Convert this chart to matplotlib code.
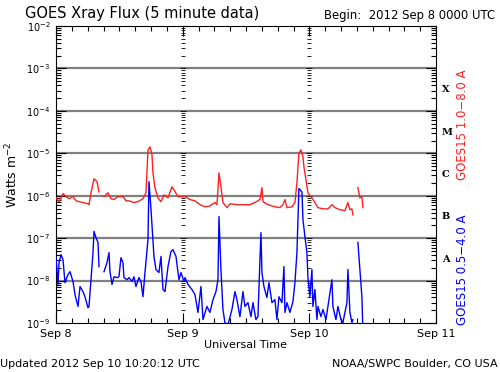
import numpy as np
import matplotlib
matplotlib.use("Agg")
import matplotlib.pyplot as plt
from matplotlib.ticker import FixedLocator, NullFormatter

# hours since 2012 Sep 8 00:00 UTC, log10 flux (W m^-2); nan = data gap
long_hours = [0.0, 0.57, 1.33, 1.89, 2.46, 3.22, 3.79, 4.36, 5.11, 6.06, 6.25, 6.63, 7.20, 7.77, 8.15, 8.6,
              9.09, 9.85, 10.42, 10.99, 11.74, 12.69, 13.26, 13.83, 14.77, 15.53, 16.48, 17.05, 17.43, 17.81,
              18.18, 18.37, 18.75, 19.32, 19.89, 20.46, 21.22, 21.97, 22.35, 23.11, 24.06, 24.44, 25.38, 26.33,
              27.28, 28.22, 29.17, 30.12, 30.50, 30.88, 31.25, 31.63, 32.39, 32.96, 34.28, 35.42, 36.75, 37.69,
              38.64, 39.02, 39.21, 40.16, 41.48, 42.43, 43.00, 43.38, 43.76, 44.70, 45.27, 45.65, 46.03, 46.41,
              46.79, 46.98, 47.36, 47.73, 48.49, 49.06, 49.63, 50.58, 51.52, 52.28, 52.85, 53.80, 54.74, 55.31,
              55.69, 56.07, 56.26, 56.8, 57.20, 57.58, 57.96, 58.15]
long_flux = [-6.05, -6.14, -5.95, -6.02, -6.07, -6.02, -6.12, -6.14, -6.16, -6.19, -6.21, -5.93, -5.60, -5.67, -5.91, np.nan,
             -6.02, -5.93, -6.07, -6.09, -6.02, -6.02, -6.12, -6.12, -6.16, -6.14, -6.07, -5.93, -4.92, -4.85,
             -5.03, -5.46, -5.81, -6.05, -6.14, -5.98, -6.05, -5.79, -5.86, -6.02, -6.02, -6.02, -6.09, -6.12,
             -6.21, -6.26, -6.24, -6.16, -6.21, -5.46, -5.79, -6.16, -6.28, -6.19, -6.21, -6.21, -6.21, -6.16,
             -6.09, -5.81, -6.14, -6.21, -6.26, -6.28, -6.21, -6.09, -6.28, -6.26, -6.16, -5.69, -4.99, -4.92,
             -5.08, -5.32, -5.62, -5.93, -6.05, -6.16, -6.28, -6.31, -6.31, -6.21, -6.28, -6.33, -6.35, -6.16,
             -6.33, -6.31, -6.45, np.nan, -5.81, -6.05, -6.02, -6.28]

short_hours = [0.0, 0.38, 0.57, 0.95, 1.33, 1.70, 2.27, 2.65, 3.22, 3.60, 4.17, 4.55, 5.11, 5.49, 6.06, 6.25,
               6.63, 7.01, 7.20, 7.58, 7.96, 8.15, 8.6, 9.09, 9.66, 10.04, 10.23, 10.61, 10.99, 11.55, 11.93,
               12.31, 12.69, 12.88, 13.45, 13.83, 14.40, 14.77, 15.15, 15.72, 16.10, 16.48, 16.86, 17.43, 17.62,
               17.99, 18.37, 18.56, 18.94, 19.51, 19.89, 20.27, 20.65, 21.22, 21.78, 22.16, 22.73, 23.30, 23.68,
               24.25, 24.44, 25.00, 25.76, 26.33, 26.90, 27.47, 27.85, 28.60, 29.17, 29.74, 30.31, 30.69, 30.88,
               31.25, 31.63, 32.01, 32.58, 33.34, 33.91, 34.28, 34.85, 35.42, 35.80, 36.37, 36.94, 37.32, 37.88,
               38.26, 38.83, 39.02, 39.40, 39.97, 40.35, 40.92, 41.48, 41.86, 42.24, 42.81, 43.19, 43.38, 43.76,
               44.32, 44.89, 45.27, 45.65, 45.84, 46.03, 46.60, 46.79, 47.16, 47.54, 47.73, 48.11, 48.49, 48.68,
               49.06, 49.44, 49.63, 50.20, 50.58, 51.15, 51.52, 52.09, 52.28, 52.47, 53.04, 53.42, 53.99, 54.36,
               55.12, 55.31, 55.69, 56.07, 56.26, 56.8, 57.20, 57.58, 57.96, 58.15]
short_flux = [-7.46, -8.09, -7.58, -7.39, -7.51, -8.05, -7.86, -7.79, -8.02, -8.33, -8.61, -8.14, -8.26, -8.38, -8.64, -8.61,
              -7.98, -7.34, -6.84, -6.99, -7.10, -7.67, np.nan, -7.79, -7.58, -7.34, -7.79, -8.09, -7.91, -7.93, -7.91,
              -7.46, -7.58, -7.93, -7.98, -7.93, -8.02, -7.91, -8.14, -7.93, -8.02, -8.38, -7.81, -7.03, -5.67,
              -6.30, -7.03, -7.43, -7.74, -7.81, -7.43, -8.21, -8.26, -7.67, -7.32, -7.27, -7.43, -7.98, -7.81,
              -8.02, -7.93, -8.09, -8.21, -8.33, -8.75, -8.14, -8.92, -8.61, -8.75, -8.45, -8.26, -7.98, -6.49,
              -7.74, -8.68, -8.99, -9.04, -8.68, -8.26, -8.45, -8.85, -8.26, -8.61, -8.52, -8.85, -8.52, -8.92,
              -8.85, -6.87, -7.81, -8.14, -8.40, -8.05, -8.52, -8.45, -8.92, -8.38, -8.52, -7.67, -8.75, -8.52,
              -8.75, -8.50, -8.05, -7.34, -6.56, -5.83, -5.91, -6.56, -6.96, -7.34, -7.91, -8.38, -7.74, -8.61,
              -8.21, -8.92, -8.61, -8.85, -8.68, -8.92, -8.61, -8.14, -7.98, -8.61, -8.92, -8.61, -8.92, -8.99,
              -8.52, -7.74, -8.75, -8.99, -8.92, np.nan, -7.10, -7.74, -8.38, -9.2]

day_ticks = [0, 24, 48, 72]
day_labels = ['Sep 8', 'Sep 9', 'Sep 10', 'Sep 11']
decades = [-9, -8, -7, -6, -5, -4, -3, -2]
classes = ['A', 'B', 'C', 'M', 'X']

fig = plt.figure(figsize=(5.0, 3.72), dpi=100)
ax = fig.add_axes([0.112, 0.1317, 0.76, 0.7983])

for d in decades[1:-1]:
    ax.axhline(10.0**d, color='#808080', lw=1.6, zorder=1)

ax.plot(long_hours, 10.0**np.array(long_flux), color='#ff2020', lw=1.0, zorder=3)
ax.plot(short_hours, 10.0**np.array(short_flux), color='#0000ff', lw=1.0, zorder=3)

ax.set_yscale('log')
ax.set_ylim(1e-9, 1e-2)
ax.set_xlim(0, 72)

ax.yaxis.set_major_locator(FixedLocator([10.0**d for d in decades]))
minor_y = [k * 10.0**d for d in decades[:-1] for k in range(2, 10)]
ax.yaxis.set_minor_locator(FixedLocator(minor_y))
ax.yaxis.set_minor_formatter(NullFormatter())
ax.set_yticklabels(['10$^{%d}$' % d for d in decades], fontsize=7)

ax.set_xticks(day_ticks)
ax.set_xticklabels(day_labels, fontsize=8)
ax.xaxis.set_minor_locator(FixedLocator(np.arange(0, 73, 3)))

ax.tick_params(which='both', direction='in', top=True, right=True, width=0.8)
ax.tick_params(which='major', length=7, pad=4)
ax.tick_params(which='minor', length=3.5)

# y tick marks along the day boundaries
for day in day_ticks[1:-1]:
    ax.plot([day] * len(minor_y), minor_y, ls='none', marker='_', ms=3, mew=0.6, color='black', zorder=2)
    ax.plot([day] * len(decades), [10.0**d for d in decades], ls='none', marker='_', ms=5, mew=0.6,
            color='black', zorder=2)

for sp in ax.spines.values():
    sp.set_linewidth(0.8)

ax.set_ylabel('Watts m$^{-2}$', fontsize=9, labelpad=4)
ax.set_xlabel('Universal Time', fontsize=8, labelpad=1)

for i, c in enumerate(classes):
    ax.text(1.015, 10.0**(-7.5 + i), c, transform=ax.get_yaxis_transform(), fontsize=7,
            family='DejaVu Serif', fontweight='bold', va='center', ha='left')

fig.text(0.926, 0.665, 'GOES15 1.0\u22128.0 A', color='#ff2020', rotation=90, fontsize=8.5,
         ha='center', va='center')
fig.text(0.926, 0.275, 'GOES15 0.5\u22124.0 A', color='#0000ff', rotation=90, fontsize=8.5,
         ha='center', va='center')

fig.text(0.05, 0.965, 'GOES Xray Flux (5 minute data)', fontsize=10.5, ha='left', va='center')
fig.text(0.99, 0.957, 'Begin:  2012 Sep 8 0000 UTC', fontsize=8.4, ha='right', va='center')
fig.text(0.0, 0.022, 'Updated 2012 Sep 10 10:20:12 UTC', fontsize=8, ha='left', va='center')
fig.text(0.995, 0.022, 'NOAA/SWPC Boulder, CO USA', fontsize=8, ha='right', va='center')

fig.savefig('out.png', dpi=100)
